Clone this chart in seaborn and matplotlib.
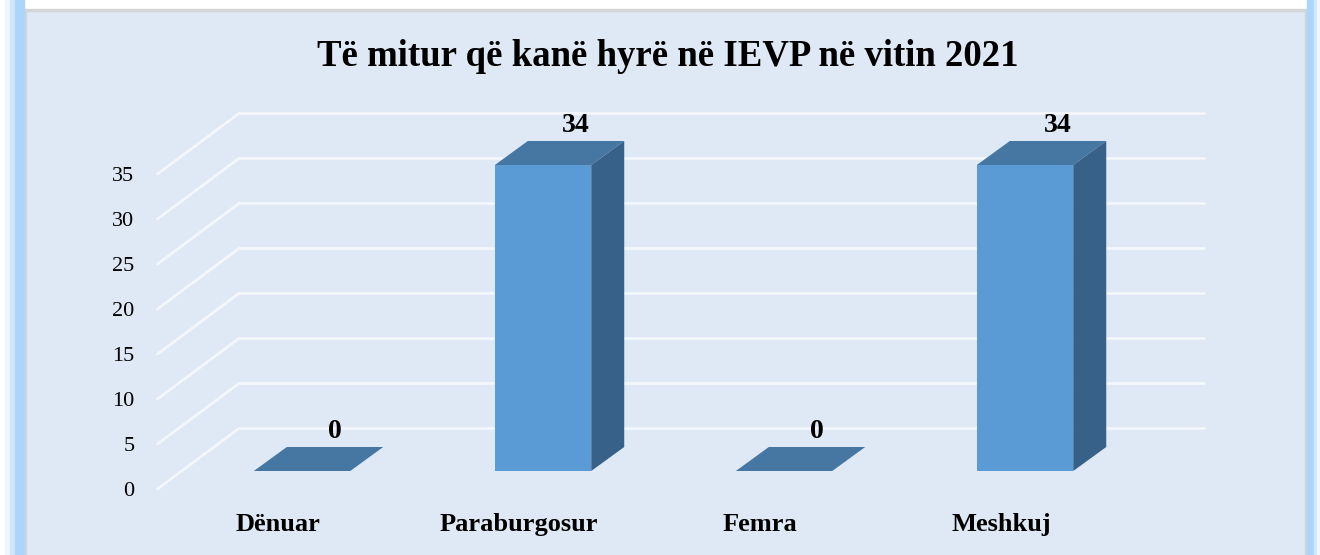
import matplotlib
matplotlib.use("Agg")
import matplotlib.pyplot as plt
from matplotlib.patches import Rectangle, Polygon
import seaborn as sns
import pandas as pd

# data
categories = ["Dënuar", "Paraburgosur", "Femra", "Meshkuj"]
values = [0, 34, 0, 34]
yticks = [0, 5, 10, 15, 20, 25, 30, 35]
title = "Të mitur që kanë hyrë në IEVP në vitin 2021"

df = pd.DataFrame({"Kategoria": categories, "Numri": values})

sns.set_theme(style="white")
plt.rcParams["font.family"] = ["Liberation Serif", "DejaVu Serif"]

panel_bg = "#dee9f5"
grid_col = "#f3f7fc"
front_col = "#5b9bd5"
top_col = "#4677a3"
side_col = "#386189"

fig = plt.figure(figsize=(13.2, 5.55), dpi=100)
fig.patch.set_facecolor("white")

# frame decoration (figure fraction coordinates), behind the axes
W, H = 1320.0, 555.0
deco = [
    ((26, 0), 1305 - 26, 555 - 11, panel_bg),
    ((24, 0), 2, 555 - 9, "#d4d4d4"),
    ((24, 555 - 11), 1307 - 24, 2, "#d4d4d4"),
    ((1305, 0), 2, 555 - 9, "#d4d4d4"),
    ((5, 0), 5, 555, "#eef6fe"),
    ((10, 0), 5, 555, "#cfe6fd"),
    ((15, 0), 9, 555, "#acd5fb"),
    ((1307, 0), 7, 555, "#acd5fb"),
    ((1314, 0), 3, 555, "#cfe6fd"),
    ((1317, 0), 3, 555, "#eef6fe"),
]
for (x0, y0), w, h, c in deco:
    fig.patches.append(Rectangle((x0 / W, y0 / H), w / W, h / H,
                                 transform=fig.transFigure, color=c, zorder=-5))

# axes for the bar front plane
ax = fig.add_axes([152.6 / W, (555 - 498) / H, (1208.2 - 152.6) / W, (498 - 102) / H])
ax.set_facecolor("none")
ax.set_zorder(2)

sns.barplot(data=df, x="Kategoria", y="Numri", color=front_col, width=0.4,
            saturation=1, errorbar=None, linewidth=0, ax=ax, zorder=3)
ax.set_xlim(-0.62, 3.76)
ax.set_ylim(-3, 41)

# depth offsets in data units
bdx, bdy = 33 / 241, 24 / 9      # bar depth
fdx, fdy = -24 / 241, -18 / 9    # front edge of floor
wdx, wdy = 58 / 241, 43 / 9      # back wall

# gridlines: diagonal on the side wall + horizontal on the back wall
x_left = -0.5
x_right = 3.5 + wdx
for v in yticks:
    ax.plot([x_left + fdx, x_left + wdx], [v + fdy, v + wdy],
            color=grid_col, lw=2, zorder=1, clip_on=False)
    ax.plot([x_left + wdx, x_right], [v + wdy, v + wdy],
            color=grid_col, lw=2, zorder=1, clip_on=False)

# 3d faces from the bar patches
for bar, v in zip(list(ax.patches), values):
    x0 = bar.get_x()
    w = bar.get_width()
    h = bar.get_height()
    top = [(x0, h), (x0 + w, h), (x0 + w + bdx, h + bdy), (x0 + bdx, h + bdy)]
    ax.add_patch(Polygon(top, closed=True, color=top_col, zorder=4, lw=0))
    if h > 0:
        side = [(x0 + w, 0), (x0 + w + bdx, bdy), (x0 + w + bdx, h + bdy), (x0 + w, h)]
        ax.add_patch(Polygon(side, closed=True, color=side_col, zorder=4, lw=0))
    ax.text(x0 + w / 2 + bdx, h + bdy + 0.3, f"{v}", ha="center", va="bottom",
            fontsize=20, fontweight="bold", color="black", zorder=5)

# axis labels
ax.set_yticks([v + fdy for v in yticks])
ax.set_yticklabels([str(v) for v in yticks], fontsize=16)
ax.set_xticks([i + fdx for i in range(len(categories))])
ax.set_xticklabels(categories, fontsize=19, fontweight="bold")
ax.tick_params(axis="y", length=0, pad=13, colors="black")
ax.tick_params(axis="x", length=0, pad=11, colors="black")
ax.set_xlabel("")
ax.set_ylabel("")
for s in ax.spines.values():
    s.set_visible(False)

fig.text(0.506, 1 - 56 / H, title, ha="center", va="center",
         fontsize=26.5, fontweight="bold", color="black")

fig.savefig("out.png", dpi=100, facecolor=fig.get_facecolor())
